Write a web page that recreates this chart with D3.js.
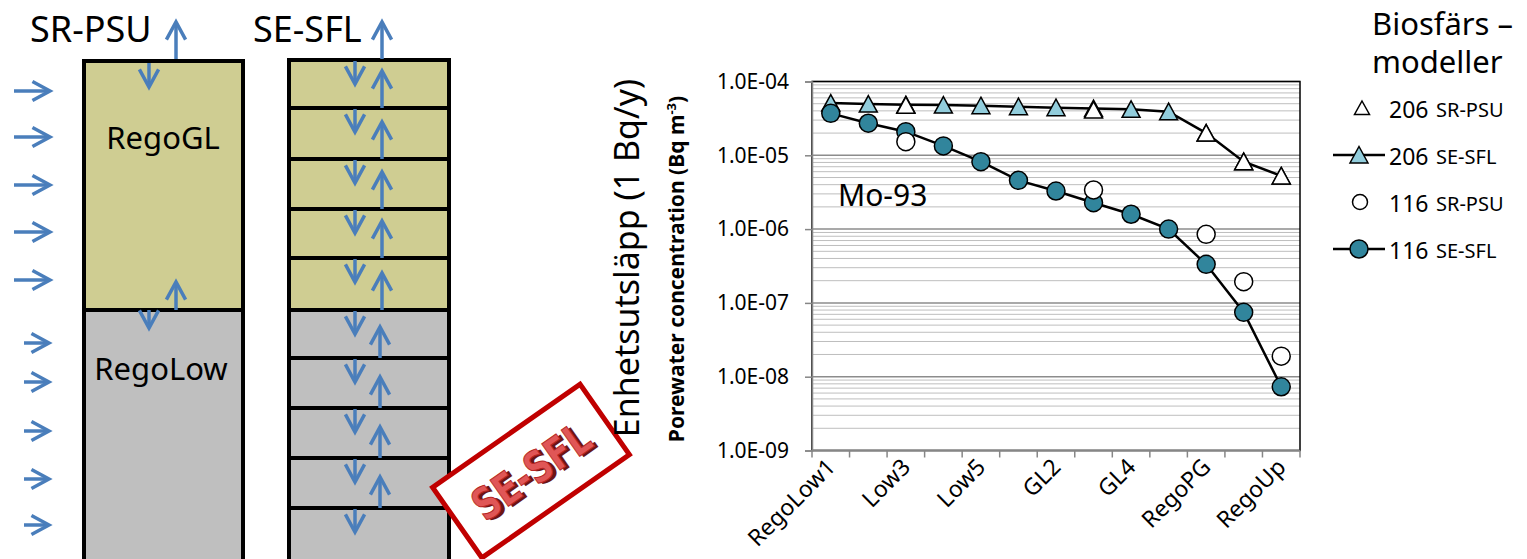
<!DOCTYPE html>
<html>
<head>
<meta charset="utf-8">
<script src="https://cdn.jsdelivr.net/npm/d3@7"></script>
<style>
  body { margin: 0; background: #fff; }
  svg { font-family: "Noto Sans", sans-serif; }
</style>
</head>
<body>
<div id="chart"></div>
<script>
/**
 * DATA
 * */
const categories = ["RegoLow1", "Low2", "Low3", "Low4", "Low5", "GL1", "GL2", "GL3", "GL4", "GL5", "RegoPG", "RegoPost", "RegoUp"];
const shownLabels = ["RegoLow1", "Low3", "Low5", "GL2", "GL4", "RegoPG", "RegoUp"];

// 206 = triangles, 116 = circles ; SE-SFL has all layers, SR-PSU only a few compartments
const seSfl206 = [5.1e-5, 4.95e-5, 4.85e-5, 4.8e-5, 4.7e-5, 4.56e-5, 4.42e-5, 4.3e-5, 4.2e-5, 3.9e-5, 2.0e-5, 8.2e-6, 5.25e-6];
const srPsu206 = [null, null, 4.75e-5, null, null, null, null, 4.1e-5, null, null, 2.0e-5, 8.2e-6, 5.25e-6];
const seSfl116 = [3.7e-5, 2.72e-5, 2.09e-5, 1.34e-5, 8.2e-6, 4.58e-6, 3.28e-6, 2.28e-6, 1.59e-6, 1.0e-6, 3.33e-7, 7.46e-8, 7.3e-9];
const srPsu116 = [null, null, 1.53e-5, null, null, null, null, 3.39e-6, null, null, 8.5e-7, 1.94e-7, 1.9e-8];

const yTicks = [1e-4, 1e-5, 1e-6, 1e-7, 1e-8, 1e-9];
const legendItems = [
  { num: "206", model: "SR-PSU", shape: "tri", fill: "#fff", line: false },
  { num: "206", model: "SE-SFL", shape: "tri", fill: "#92CDDC", line: true },
  { num: "116", model: "SR-PSU", shape: "circ", fill: "#fff", line: false },
  { num: "116", model: "SE-SFL", shape: "circ", fill: "#31859C", line: true },
];

/**
 * CONSTANTS
 * */
const width = 1527, height = 559;
const plot = { left: 812, right: 1300, top: 81.5, bottom: 450.5 };
const blue = "#4A7EBB";
const olive = "#CFCD92";
const grey = "#BFBFBF";

const svg = d3.select("#chart").append("svg")
  .attr("width", width)
  .attr("height", height);

/**
 * LEFT DIAGRAM
 * */
const diag = svg.append("g");

function arrow(x1, y1, x2, y2) {
  const a = Math.atan2(y2 - y1, x2 - x1), arm = 20, s = 0.5;
  diag.append("line")
    .attr("x1", x1).attr("y1", y1).attr("x2", x2).attr("y2", y2)
    .attr("stroke", blue).attr("stroke-width", 3.5);
  diag.append("polyline")
    .attr("points", [
      [x2 - arm * Math.cos(a - s), y2 - arm * Math.sin(a - s)],
      [x2, y2],
      [x2 - arm * Math.cos(a + s), y2 - arm * Math.sin(a + s)]
    ].map(p => p.join(",")).join(" "))
    .attr("fill", "none").attr("stroke", blue).attr("stroke-width", 3.5);
}

// SR-PSU box
diag.append("rect").attr("x", 84).attr("y", 61).attr("width", 159).attr("height", 249).attr("fill", olive);
diag.append("rect").attr("x", 84).attr("y", 310).attr("width", 159).attr("height", 260).attr("fill", grey);
diag.append("rect").attr("x", 84).attr("y", 61).attr("width", 159).attr("height", 520)
  .attr("fill", "none").attr("stroke", "#000").attr("stroke-width", 4);
diag.append("line").attr("x1", 84).attr("x2", 243).attr("y1", 310).attr("y2", 310)
  .attr("stroke", "#000").attr("stroke-width", 4);

// SE-SFL box
const layerTops = [60, 108, 159, 209, 258, 310, 358, 408, 458, 508];
diag.append("rect").attr("x", 289).attr("y", 60).attr("width", 160).attr("height", 250).attr("fill", olive);
diag.append("rect").attr("x", 289).attr("y", 310).attr("width", 160).attr("height", 260).attr("fill", grey);
layerTops.slice(1).forEach(b => {
  diag.append("line").attr("x1", 289).attr("x2", 449).attr("y1", b).attr("y2", b)
    .attr("stroke", "#000").attr("stroke-width", 4);
});
diag.append("rect").attr("x", 289).attr("y", 60).attr("width", 160).attr("height", 520)
  .attr("fill", "none").attr("stroke", "#000").attr("stroke-width", 4);

// titles
diag.append("text").attr("x", 30).attr("y", 42).attr("font-size", 36).text("SR-PSU");
diag.append("text").attr("x", 253).attr("y", 42).attr("font-size", 36).text("SE-SFL");
diag.append("text").attr("x", 163).attr("y", 149).attr("font-size", 31).attr("text-anchor", "middle").text("RegoGL");
diag.append("text").attr("x", 161).attr("y", 380).attr("font-size", 31).attr("text-anchor", "middle").text("RegoLow");

// inflow arrows
[91, 137, 185, 232, 280].forEach(y => arrow(14, y, 50, y));
[343, 382, 431, 479, 525].forEach(y => arrow(24, y, 49, y));

// SR-PSU exchange arrows
arrow(176, 59, 176, 22);
arrow(149, 63, 149, 87);
arrow(176, 310, 176, 282);
arrow(149, 310, 149, 328);

// SE-SFL exchange arrows
layerTops.forEach((b, i) => {
  arrow(355, b + 1, 355, b + 24);
  if (i === 0) arrow(382, 59, 382, 22);
  else if (b < 330) arrow(382, b, 382, b - 37);
  else arrow(380, b, 380, b - 31);
});

// stamp
const stamp = svg.append("g").attr("transform", "translate(531,471) rotate(-35)");
stamp.append("rect").attr("x", -90).attr("y", -43).attr("width", 180).attr("height", 86)
  .attr("fill", "#fff").attr("stroke", "#C00000").attr("stroke-width", 5);
stamp.append("text").attr("x", 3).attr("y", 19).attr("text-anchor", "middle")
  .attr("font-family", "DejaVu Sans").attr("font-weight", "bold").attr("font-size", 44)
  .attr("textLength", 134).attr("lengthAdjust", "spacingAndGlyphs")
  .attr("fill", "#6B1515").text("SE-SFL");
stamp.append("text").attr("x", 0).attr("y", 16).attr("text-anchor", "middle")
  .attr("font-family", "DejaVu Sans").attr("font-weight", "bold").attr("font-size", 44)
  .attr("textLength", 134).attr("lengthAdjust", "spacingAndGlyphs")
  .attr("fill", "#E05656").attr("stroke", "#B52424").attr("stroke-width", 1).text("SE-SFL");

/**
 * CHART
 * */
const x = d3.scaleBand().domain(categories).range([plot.left, plot.right]);
const y = d3.scaleLog().domain([1e-9, 1e-4]).range([plot.bottom, plot.top]);

// gridlines
const minor = [];
for (let e = -9; e < -4; e++) for (let m = 2; m <= 9; m++) minor.push(m * Math.pow(10, e));
svg.append("g").selectAll("line").data(minor).join("line")
  .attr("x1", plot.left).attr("x2", plot.right)
  .attr("y1", d => y(d)).attr("y2", d => y(d))
  .attr("stroke", "#BEBEBE").attr("stroke-width", 1);
svg.append("g").selectAll("line").data(yTicks).join("line")
  .attr("x1", plot.left).attr("x2", plot.right)
  .attr("y1", d => y(d)).attr("y2", d => y(d))
  .attr("stroke", "#8C8C8C").attr("stroke-width", 1.5);

// plot border (top/right black)
svg.append("rect")
  .attr("x", plot.left).attr("y", plot.top)
  .attr("width", plot.right - plot.left).attr("height", plot.bottom - plot.top)
  .attr("fill", "none").attr("stroke", "#000").attr("stroke-width", 1.5);

const fmt = d => {
  const e = Math.round(Math.log10(d));
  return "1.0E" + (e < 0 ? "-" : "+") + String(Math.abs(e)).padStart(2, "0");
};

const yAxis = svg.append("g")
  .attr("transform", `translate(${plot.left},0)`)
  .call(d3.axisLeft(y).tickValues(yTicks).tickFormat(fmt).tickSize(7).tickPadding(16));
yAxis.select(".domain").attr("stroke", "#868686").attr("stroke-width", 1.5);
yAxis.selectAll(".tick line").attr("stroke", "#868686").attr("stroke-width", 1.5);
yAxis.selectAll(".tick text").attr("font-size", 21).attr("fill", "#000")
  .attr("font-family", "Noto Sans");

// x axis: ticks at band edges
const edges = categories.map(c => x(c)).concat([plot.right]);
const xAxis = svg.append("g");
xAxis.append("line").attr("x1", plot.left).attr("x2", plot.right)
  .attr("y1", plot.bottom).attr("y2", plot.bottom)
  .attr("stroke", "#868686").attr("stroke-width", 1.5);
xAxis.selectAll("line.tk").data(edges).join("line").attr("class", "tk")
  .attr("x1", d => d).attr("x2", d => d)
  .attr("y1", plot.bottom).attr("y2", plot.bottom + 7)
  .attr("stroke", "#868686").attr("stroke-width", 1.5);
xAxis.selectAll("text").data(shownLabels).join("text")
  .attr("transform", d => `translate(${x(d) + x.bandwidth() / 2 + 6},${plot.bottom + 18}) rotate(-45)`)
  .attr("text-anchor", "end")
  .attr("font-size", 23)
  .text(d => d);

// axis titles
svg.append("text")
  .attr("transform", `translate(639,258) rotate(-90)`)
  .attr("text-anchor", "middle").attr("font-size", 34)
  .text("Enhetsutsläpp (1 Bq/y)");
const t2 = svg.append("text")
  .attr("transform", `translate(684,269) rotate(-90)`)
  .attr("text-anchor", "middle").attr("font-size", 21).attr("font-weight", "bold");
t2.append("tspan").text("Porewater concentration (Bq m");
t2.append("tspan").attr("font-size", 13).attr("dy", -8).text("-3");
t2.append("tspan").attr("dy", 8).text(")");

svg.append("text").attr("x", 838).attr("y", 206).attr("font-size", 30).text("Mo-93");

// series
const cx = i => x(categories[i]) + x.bandwidth() / 2;
const line = d3.line().x((d, i) => cx(i)).y(d => y(d));
const triPath = "M0,-8.5L9,8L-9,8Z";

function drawLine(values) {
  svg.append("path").datum(values).attr("d", line)
    .attr("fill", "none").attr("stroke", "#000").attr("stroke-width", 2.5);
}
function drawMarkers(values, shape, fill) {
  const pts = values.map((v, i) => ({ v, i })).filter(d => d.v != null);
  const g = svg.append("g");
  if (shape === "tri") {
    g.selectAll("path").data(pts).join("path")
      .attr("d", triPath)
      .attr("transform", d => `translate(${cx(d.i)},${y(d.v)})`)
      .attr("fill", fill).attr("stroke", "#000").attr("stroke-width", 1.5);
  } else {
    g.selectAll("circle").data(pts).join("circle")
      .attr("cx", d => cx(d.i)).attr("cy", d => y(d.v)).attr("r", 9)
      .attr("fill", fill).attr("stroke", "#000").attr("stroke-width", 1.5);
  }
}

drawLine(seSfl206);
drawMarkers(seSfl206, "tri", "#92CDDC");
drawLine(seSfl116);
drawMarkers(seSfl116, "circ", "#31859C");
drawMarkers(srPsu206, "tri", "#fff");
drawMarkers(srPsu116, "circ", "#fff");

/**
 * LEGEND
 * */
svg.append("text").attr("x", 1372).attr("y", 35).attr("font-size", 31).text("Biosfärs –");
svg.append("text").attr("x", 1372).attr("y", 73).attr("font-size", 31).text("modeller");

const leg = svg.append("g").selectAll("g").data(legendItems).join("g")
  .attr("transform", (d, i) => `translate(0,${108 + i * 47})`);
leg.filter(d => d.line).append("line")
  .attr("x1", 1333).attr("x2", 1385).attr("y1", 0).attr("y2", 0)
  .attr("stroke", "#000").attr("stroke-width", 2.5);
leg.filter(d => d.shape === "tri").append("path")
  .attr("d", d => d.line ? triPath : "M0,-7L7.5,6.5L-7.5,6.5Z")
  .attr("transform", d => `translate(${d.line ? 1359 : 1362},0)`)
  .attr("fill", d => d.fill).attr("stroke", "#000").attr("stroke-width", 1.5);
leg.filter(d => d.shape === "circ").append("circle")
  .attr("cx", d => d.line ? 1359 : 1360).attr("cy", 0).attr("r", d => d.line ? 9 : 7.5)
  .attr("fill", d => d.fill).attr("stroke", "#000").attr("stroke-width", 1.5);
leg.append("text").attr("x", 1389).attr("y", 10).attr("font-size", 23).text(d => d.num);
leg.append("text").attr("x", 1436).attr("y", 9).attr("font-size", 20).text(d => d.model);
</script>
</body>
</html>
